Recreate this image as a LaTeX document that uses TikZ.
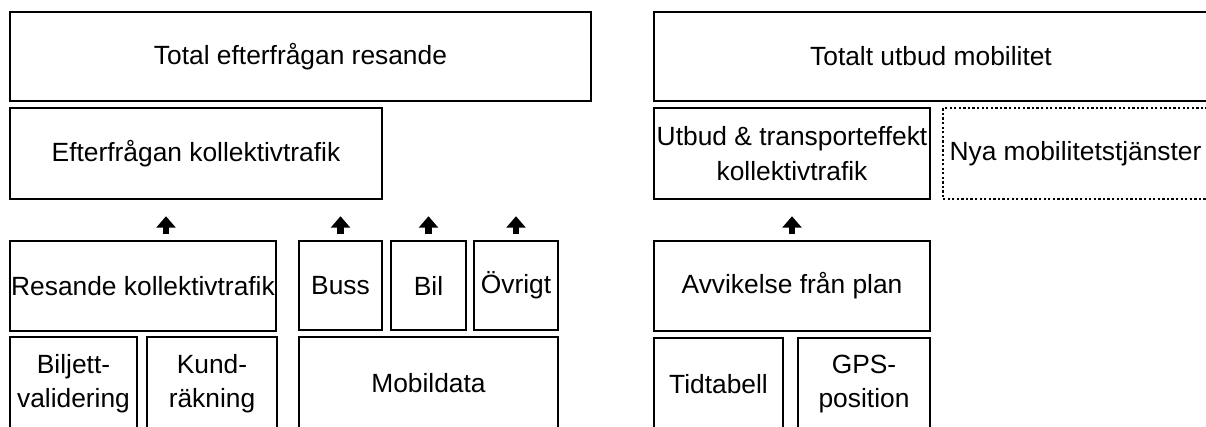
\documentclass[tikz,border=0pt]{standalone}
\usepackage{fontspec}
\setmainfont{Liberation Sans}
\usetikzlibrary{arrows.meta}

\begin{document}
\begin{tikzpicture}[x=0.02cm,y=-0.02cm,every node/.style={font=\fontsize{15}{19.5}\selectfont},
box/.style 2 args={draw,line width=1.4pt,align=center,inner sep=0pt,minimum width=#1*0.02cm,minimum height=#2*0.02cm},
newbox/.style 2 args={box={#1}{#2},line width=1.3pt,dash pattern=on 1.3pt off 1.3pt},
uparr/.style={-{Triangle[length=0.23cm,width=0.38cm]},line width=0.13cm,shorten <=0.11cm,shorten >=0.32cm}]
\clip (0,0) rectangle (1206,426);
% efterfragan
\node[box={581}{89}] (TotEft) at (300.5,56.5) {Total efterfrågan resande};
\node[box={372}{91}] (EftKoll) at (196,153.5) {Efterfrågan kollektivtrafik};
\node[box={266}{90}] (Resande) at (143,286) {Resande kollektivtrafik};
\node[box={127}{93}] (Biljett) at (73.5,383.5) {Biljett-\\validering};
\node[box={130}{93}] (Kund) at (212,383.5) {Kund-\\räkning};
\node[box={83}{89}] (Buss) at (340.5,285.5) {Buss};
\node[box={75}{89}] (Bil) at (428.5,285.5) {Bil};
\node[box={84}{89}] (Ovrigt) at (516,285.5) {Övrigt};
\node[box={259}{93}] (Mobil) at (428.5,383.5) {Mobildata};
% utbud
\node[box={554}{89}] (TotUtb) at (931,56.5) {Totalt utbud mobilitet};
\node[box={276}{91}] (Utbud) at (792,153.5) {Utbud \& transporteffekt\\kollektivtrafik};
\node[newbox={265}{91}] (Nya) at (1075.5,153.5) {Nya mobilitetstjänster};
\node[box={276}{90}] (Avvik) at (792,286) {Avvikelse från plan};
\node[box={129}{92}] (Tid) at (718.5,384) {Tidtabell};
\node[box={132}{92}] (GPS) at (864,384) {GPS-\\position};
\draw[uparr] ([xshift=0.46cm]Resande.north) -- ([xshift=0.46cm]Resande.north |- EftKoll.south);
\draw[uparr] (Buss) -- (Buss.north |- EftKoll.south);
\draw[uparr] (Bil) -- (Bil.north |- EftKoll.south);
\draw[uparr] (Ovrigt) -- (Ovrigt.north |- EftKoll.south);
\draw[uparr] (Avvik) -- (Utbud);
\end{tikzpicture}
\end{document}
